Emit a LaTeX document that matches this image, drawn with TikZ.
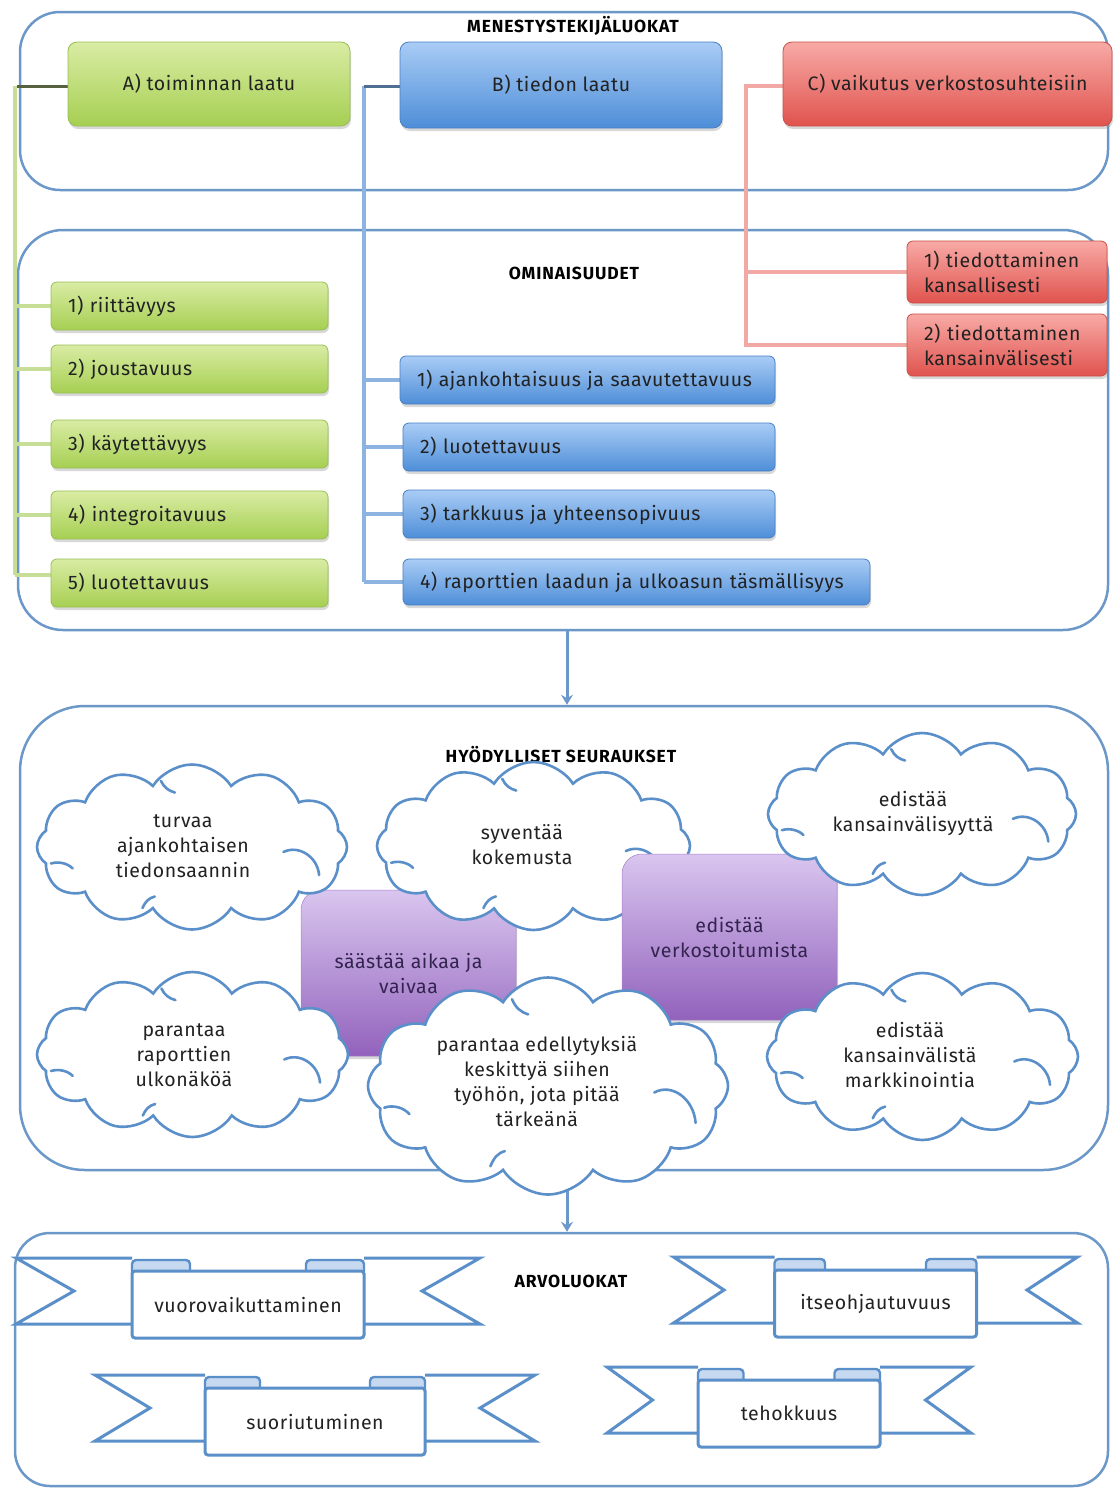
\documentclass[tikz,border=0pt]{standalone}
\usepackage{fontspec}
\setmainfont{Fira Sans}[LetterSpace=3]
\newfontfamily\ttlfont{Fira Sans}[LetterSpace=5]
\usetikzlibrary{shapes.symbols,shadows,calc,arrows.meta}
\definecolor{pan}{HTML}{6B98C9}
\definecolor{txt}{HTML}{222222}
\definecolor{gT}{HTML}{D9ECA4}
\definecolor{gB}{HTML}{A6CF52}
\definecolor{gD}{HTML}{98BE55}
\definecolor{gL}{HTML}{C6DE95}
\definecolor{gS}{HTML}{55613F}
\definecolor{bT}{HTML}{A9CCF5}
\definecolor{bB}{HTML}{4E8ED8}
\definecolor{bD}{HTML}{4A80C4}
\definecolor{bL}{HTML}{8DB4E0}
\definecolor{bS}{HTML}{4F6E92}
\definecolor{rT}{HTML}{F8AAA6}
\definecolor{rB}{HTML}{E0534E}
\definecolor{rD}{HTML}{C85048}
\definecolor{rL}{HTML}{F2A8A4}
\definecolor{pT}{HTML}{D9C6EF}
\definecolor{pB}{HTML}{9262BC}
\definecolor{pTx}{HTML}{33244F}
\definecolor{cl}{HTML}{5B8FC9}
\definecolor{tab}{HTML}{C6D9F0}
\newcommand{\bodyf}{\fontsize{19.5}{25}\selectfont}
\newcommand{\titlef}{\ttlfont\fontsize{17.5}{20}\selectfont\bfseries}
% #1 name, #2 cx, #3 half width, #4 wing top y, #5 text
\newcommand{\myribbon}[5]{%
  \pgfmathsetmacro{\rbl}{#2-#3}\pgfmathsetmacro{\rbr}{#2+#3}%
  \pgfmathsetmacro{\rel}{#2-2*#3}\pgfmathsetmacro{\rer}{#2+2*#3}%
  \pgfmathsetmacro{\rnl}{#2-1.5*#3}\pgfmathsetmacro{\rnr}{#2+1.5*#3}%
  \pgfmathsetmacro{\rwt}{#4}\pgfmathsetmacro{\rwm}{#4+33}\pgfmathsetmacro{\rwb}{#4+66}%
  \pgfmathsetmacro{\rtl}{#2-0.5*#3}\pgfmathsetmacro{\rtr}{#2+0.5*#3}%
  \pgfmathsetmacro{\rtt}{#4+2}\pgfmathsetmacro{\rtb}{#4+18}%
  \pgfmathsetmacro{\rbw}{2*#3}\pgfmathsetmacro{\rby}{#4+46.5}%
  \draw[rib] (\rbl,\rwt) -- (\rel,\rwt) -- (\rnl,\rwm) -- (\rel,\rwb) -- (\rbl,\rwb);
  \draw[rib] (\rbr,\rwt) -- (\rer,\rwt) -- (\rnr,\rwm) -- (\rer,\rwb) -- (\rbr,\rwb);
  \draw[ribtab] (\rbl,\rtb) rectangle (\rtl,\rtt);
  \draw[ribtab] (\rtr,\rtt) rectangle (\rbr,\rtb);
  \node[ribbox,minimum width=\rbw pt,minimum height=67pt] (#1) at (#2,\rby) {#5};
}
% inner curls of a cloud: #1 name of the cloud node, #2 width, #3 height
\newcommand{\curls}[3]{%
  \draw[curl] ($(#1.center)+(0.295*#2,0.03*#3)$) .. controls ($(#1.center)+(0.345*#2,-0.015*#3)$) and ($(#1.center)+(0.405*#2,0.06*#3)$) .. ($(#1.center)+(0.41*#2,0.17*#3)$);
  \draw[curl] ($(#1.center)+(-0.455*#2,0.10*#3)$) .. controls ($(#1.center)+(-0.43*#2,0.085*#3)$) and ($(#1.center)+(-0.40*#2,0.10*#3)$) .. ($(#1.center)+(-0.385*#2,0.13*#3)$);
  \draw[curl] ($(#1.center)+(-0.10*#2,-0.40*#3)$) .. controls ($(#1.center)+(-0.09*#2,-0.36*#3)$) and ($(#1.center)+(-0.075*#2,-0.34*#3)$) .. ($(#1.center)+(-0.055*#2,-0.33*#3)$);
  \draw[curl] ($(#1.center)+(-0.16*#2,0.37*#3)$) .. controls ($(#1.center)+(-0.15*#2,0.33*#3)$) and ($(#1.center)+(-0.14*#2,0.31*#3)$) .. ($(#1.center)+(-0.12*#2,0.30*#3)$);
}
\begin{document}
\begin{tikzpicture}[x=1pt,y=-1pt,
  panel/.style={draw=pan,line width=2.5pt,fill=white,rounded corners=#1,inner sep=0pt},
  ttl/.style={font=\titlef,text=black,inner sep=1pt},
  shad/.style={drop shadow={opacity=0.3,shadow xshift=1pt,shadow yshift=-3pt}},
  gbox/.style={shad,draw=gD,line width=0.8pt,rounded corners=9pt,top color=gT,bottom color=gB,inner sep=0pt,font=\bodyf,text=txt},
  gitem/.style={gbox,rounded corners=6pt,minimum height=48pt,text width=243pt,inner xsep=17pt,align=left},
  bbox/.style={shad,draw=bD,line width=0.8pt,rounded corners=9pt,top color=bT,bottom color=bB,inner sep=0pt,font=\bodyf,text=txt},
  bitem/.style={bbox,rounded corners=6pt,minimum height=48pt,inner xsep=17pt,align=left},
  rbox/.style={shad,draw=rD,line width=0.8pt,rounded corners=9pt,top color=rT,bottom color=rB,inner sep=0pt,font=\bodyf,text=txt},
  ritem/.style={rbox,rounded corners=6pt,minimum height=62pt,text width=166pt,inner xsep=17pt,align=left},
  pbox/.style={shad,draw=pB!80,line width=0.5pt,rounded corners=20pt,top color=pT,bottom color=pB,inner sep=0pt,font=\bodyf,text=pTx,align=center,minimum width=215pt,minimum height=166pt},
  gline/.style={draw=gL,line width=3.5pt},
  gstub/.style={draw=gS,line width=3pt},
  bline/.style={draw=bL,line width=3.5pt},
  bstub/.style={draw=bS,line width=3pt},
  rline/.style={draw=rL,line width=3.5pt},
  arr/.style={draw=pan,line width=3pt,-{Stealth[length=10pt,width=12pt,inset=3.5pt]}},
  cld/.style={cloud,cloud puffs=12,cloud puff arc=115,cloud ignores aspect,draw=cl,line width=2.6pt,fill=white,inner sep=0pt},
  curl/.style={draw=cl,line width=2.6pt,line cap=round},
  ctext/.style={font=\bodyf,text=txt,align=center,inner sep=0pt},
  rib/.style={draw=cl,line width=3pt,fill=white,line join=miter},
  ribtab/.style={draw=cl,line width=2.4pt,fill=tab,rounded corners=4pt},
  ribbox/.style={draw=cl,line width=3pt,fill=white,rounded corners=3pt,font=\bodyf,text=txt,inner sep=0pt}
]
\useasboundingbox (0,0) rectangle (1114,1489);
\fill[white] (0,0) rectangle (1114,1489);

% ---------- panels ----------
\node[panel=40pt,minimum width=1088pt,minimum height=178pt] (p1) at (564,101) {};
\node[panel=45pt,minimum width=1090pt,minimum height=400pt] (p2) at (563,430) {};
\node[panel=65pt,minimum width=1088pt,minimum height=464pt] (p3) at (564,938) {};
\node[panel=35pt,minimum width=1093pt,minimum height=253pt] (p4) at (561.5,1359.5) {};

\node[ttl] (t1) at (573,26) {MENESTYSTEKIJÄLUOKAT};
\node[ttl] (t2) at (574,273) {OMINAISUUDET};
\node[ttl] (t3) at (561,755) {HYÖDYLLISET SEURAUKSET};
\node[ttl] (t4) at (571,1281) {ARVOLUOKAT};

\coordinate (ax) at (567,0);
\draw[arr] (p2.south -| ax) -- (p3.north -| ax);
\draw[arr] (p3.south -| ax) -- (p4.north -| ax);

% ---------- connector spines ----------
\coordinate (gv) at (15,575);
\coordinate (bv) at (364,582);
\coordinate (rv) at (746,345);

\draw[gline] (15,86) -- (gv);
\draw[gline] (gv) -- (51,575);
\foreach \yy in {306,369,444,515} {\draw[gline] (15,\yy) -- (51,\yy);}
\draw[gstub] (17,86) -- (68,86);

\draw[bline] (364,86) -- (bv);
\foreach \yy in {380,447,514,582} {\draw[bline] (364,\yy) -- (403,\yy);}
\draw[bstub] (364,86) -- (400,86);

\draw[rline] (783,86) -- (746,86) -- (rv) -- (907,345);
\draw[rline] (746,272) -- (907,272);

% ---------- boxes ----------
\node[gbox,minimum width=282pt,minimum height=84pt] (A) at (209,84) {A) toiminnan laatu};
\node[gitem] (g1) at (189.5,306) {1) riittävyys};
\node[gitem] (g2) at (189.5,369) {2) joustavuus};
\node[gitem] (g3) at (189.5,444) {3) käytettävyys};
\node[gitem] (g4) at (189.5,515) {4) integroitavuus};
\node[gitem] (g5) at (189.5,583) {5) luotettavuus};

\node[bbox,minimum width=322pt,minimum height=86pt] (B) at (561,85) {B) tiedon laatu};
\node[bitem,text width=341pt] (b1) at (587.5,380) {1) ajankohtaisuus ja saavutettavuus};
\node[bitem,text width=338pt] (b2) at (589,447) {2) luotettavuus};
\node[bitem,text width=338pt] (b3) at (589,514) {3) tarkkuus ja yhteensopivuus};
\node[bitem,text width=433pt,minimum height=46pt] (b4) at (636.5,582) {4) raporttien laadun ja ulkoasun täsmällisyys};

\node[rbox,minimum width=329pt,minimum height=84pt] (C) at (947.5,84) {C) vaikutus verkostosuhteisiin};
\node[ritem] (r1) at (1007,272) {1) tiedottaminen\\kansallisesti};
\node[ritem] (r2) at (1007,345) {2) tiedottaminen\\kansainvälisesti};

% ---------- consequences ----------
\node[pbox] (P1) at (408.5,973) {säästää aikaa ja\\vaivaa};
\node[cld,minimum width=313pt,minimum height=168pt] (c2) at (533.5,846) {};
\curls{c2}{313}{168}
\node[ctext] (c2t) at (522,844.5) {syventää\\kokemusta};
\node[pbox] (P2) at (729.5,937) {edistää\\verkostoitumista};
\node[cld,minimum width=308pt,minimum height=162pt] (c3) at (922,814) {};
\curls{c3}{308}{162}
\node[ctext] (c3t) at (913,813) {edistää\\kansainvälisyyttä};
\node[cld,minimum width=310pt,minimum height=165pt] (c1) at (192,847) {};
\curls{c1}{310}{165}
\node[ctext] (c1t) at (183,846) {turvaa\\ajankohtaisen\\tiedonsaannin};
\node[cld,minimum width=311pt,minimum height=165pt] (c4) at (192.5,1054.5) {};
\curls{c4}{311}{165}
\node[ctext] (c4t) at (184,1055) {parantaa\\raporttien\\ulkonäköä};
\node[cld,minimum width=311pt,minimum height=167pt] (c6) at (922.5,1056.5) {};
\curls{c6}{311}{167}
\node[ctext] (c6t) at (910,1055) {edistää\\kansainvälistä\\markkinointia};
\node[cld,minimum width=360pt,minimum height=217pt] (c5) at (548,1086) {};
\curls{c5}{360}{217}
\node[ctext] (c5t) at (537,1081.5) {parantaa edellytyksiä\\keskittyä siihen\\työhön, jota pitää\\tärkeänä};

% ---------- ribbons ----------
\myribbon{v1}{248}{116}{1258}{vuorovaikuttaminen}
\myribbon{v2}{315}{110}{1375}{suoriutuminen}
\myribbon{v3}{875.5}{101}{1257}{itseohjautuvuus}
\myribbon{v4}{789}{91}{1367}{tehokkuus}
\end{tikzpicture}
\end{document}
